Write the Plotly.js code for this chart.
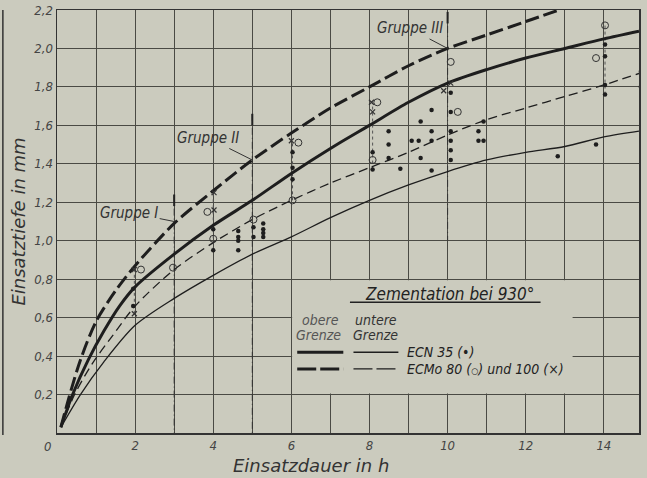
<!DOCTYPE html>
<html>
<head>
<meta charset="utf-8">
<script src="https://cdn.plot.ly/plotly-3.0.1.min.js"></script>
<style>html,body{margin:0;padding:0;background:#cbcbbe;}#chart{width:647px;height:478px;}</style>
</head>
<body>
<div id="chart"></div>
<script>
// ---- curves (Einsatzdauer h -> Einsatztiefe mm) ----
const ecmoUpperH = [0.1,0.3,0.6,1,1.5,2,3,4,5,6,7,8,9,10,11,12,12.85];
const ecmoUpperD = [0.03,0.18,0.38,0.58,0.74,0.87,1.09,1.26,1.42,1.56,1.69,1.80,1.91,2.00,2.07,2.14,2.20];

const ecnUpperH = [0.1,0.4,0.8,1.2,1.6,2,3,4,5,6,7,8,9,10,11,12,13,14,14.9];
const ecnUpperD = [0.03,0.2,0.38,0.53,0.66,0.76,0.93,1.08,1.21,1.35,1.48,1.60,1.72,1.82,1.89,1.95,2.00,2.05,2.09];

const ecmoLowerH = [0.1,0.45,0.9,1.4,2,3,4,5,6,7,8,9,10,11,12,13,14,14.9];
const ecmoLowerD = [0.03,0.2,0.36,0.5,0.66,0.85,0.99,1.11,1.21,1.30,1.38,1.46,1.55,1.63,1.69,1.75,1.81,1.87];

const ecnLowerH = [0.1,0.6,1.2,2,3,4,5,6,7,8,9,10,11,12,13,14,14.9];
const ecnLowerD = [0.03,0.2,0.37,0.56,0.70,0.82,0.93,1.02,1.12,1.21,1.29,1.36,1.42,1.46,1.49,1.54,1.57];

// ---- measured points ----
const ecn35H = [1.95,1.95,4.0,4.0,4.64,4.64,4.64,4.64,5.03,5.03,5.28,5.28,5.28,5.28,6.03,6.03,6.03,8.08,8.08,8.49,8.49,8.49,8.79,9.08,9.26,9.31,9.31,9.59,9.59,9.59,9.59,10.08,10.08,10.08,10.08,10.08,10.08,10.79,10.79,10.92,10.92,12.82,13.8,14.03,14.03,14.03,14.03,14.95,14.95];
const ecn35D = [0.66,0.75,1.06,0.95,1.05,1.02,1.00,0.95,1.07,1.02,1.09,1.06,1.04,1.02,1.46,1.38,1.32,1.46,1.37,1.57,1.50,1.43,1.375,1.52,1.52,1.62,1.43,1.68,1.57,1.52,1.365,1.77,1.67,1.57,1.52,1.47,1.42,1.57,1.52,1.62,1.52,1.44,1.50,2.02,1.96,1.81,1.76,1.88,1.80];

const ecmo80H = [2.15,2.97,3.85,4.0,5.03,6.18,6.03,8.2,8.08,10.08,10.26,14.03,13.8];
const ecmo80D = [0.85,0.86,1.15,1.01,1.11,1.51,1.21,1.72,1.42,1.93,1.67,2.12,1.95];

const ecmo100H = [1.98,4.02,4.02,6.0,8.05,8.08,10.08,9.9,1.98];
const ecmo100D = [0.85,1.16,1.25,1.52,1.72,1.67,1.82,1.78,0.62];

// ---- scatter ranges (dotted verticals) ----
const rangeH    = [1.98,4.0,6.03,8.08,14.03];
const rangeLow  = [0.62,0.95,1.21,1.37,1.76];
const rangeHigh = [0.85,1.25,1.52,1.72,2.12];

// ---- groups ----
const groupH      = [3,5,10];
const groupTop    = [1.24,1.66,2.19];
const groupBottom = [0,0,1.0];
const groupNames  = ['Gruppe I','Gruppe II','Gruppe III'];
const groupTipD   = [1.10,1.42,2.00];

// ---- ticks ----
const xTickVals = [0,1,2,3,4,5,6,7,8,9,10,11,12,13,14];
const xTickText = ['','','2','','4','','6','','8','','10','','12','','14'];
const yTickVals = [0,0.2,0.4,0.6,0.8,1.0,1.2,1.4,1.6,1.8,2.0,2.2];
const yTickText = ['','0,2','0,4','0,6','0,8','1,0','1,2','1,4','1,6','1,8','2,0','2,2'];

const BG = '#cbcbbe';
const INK = '#1e1e1e';
const FONT = 'DejaVu Sans Condensed, Liberation Sans Narrow, sans-serif';
const FONTW = 'DejaVu Sans, sans-serif';

function curve(x, y, w, dash) {
  return {x: x, y: y, mode: 'lines', type: 'scatter', hoverinfo: 'skip', showlegend: false,
          line: {color: INK, width: w, dash: dash, shape: 'spline', smoothing: 0.8}};
}

const traces = [];

// group vertical dash-dot lines
const gx = [], gy = [];
groupH.forEach((h, i) => { gx.push(h, h, null); gy.push(groupTop[i], groupBottom[i], null); });
traces.push({x: gx, y: gy, mode: 'lines', type: 'scatter', showlegend: false, hoverinfo: 'skip',
             line: {color: '#333', width: 1, dash: '7px,3px,1px,3px'}});
// short solid caps on group lines
const cx = [], cy = [];
groupH.forEach((h, i) => { cx.push(h, h, null); cy.push(groupTop[i], groupTop[i] - 0.06, null); });
traces.push({x: cx, y: cy, mode: 'lines', type: 'scatter', showlegend: false, hoverinfo: 'skip',
             line: {color: '#222', width: 2}});

// dotted range lines
const rx = [], ry = [];
rangeH.forEach((h, i) => { rx.push(h, h, null); ry.push(rangeLow[i], rangeHigh[i], null); });
traces.push({x: rx, y: ry, mode: 'lines', type: 'scatter', showlegend: false, hoverinfo: 'skip',
             line: {color: '#555', width: 1, dash: 'dot'}});

traces.push(curve(ecmoUpperH, ecmoUpperD, 3, '14px,5px'));
traces.push(curve(ecnUpperH, ecnUpperD, 3, 'solid'));
traces.push(curve(ecmoLowerH, ecmoLowerD, 1.3, '9px,5px'));
traces.push(curve(ecnLowerH, ecnLowerD, 1.3, 'solid'));

traces.push({x: ecn35H, y: ecn35D, mode: 'markers', type: 'scatter', showlegend: false,
             marker: {symbol: 'circle', size: 4.5, color: INK}});
traces.push({x: ecmo80H, y: ecmo80D, mode: 'markers', type: 'scatter', showlegend: false,
             marker: {symbol: 'circle-open', size: 7, color: '#333', line: {width: 1, color: '#333'}}});
traces.push({x: ecmo100H, y: ecmo100D, mode: 'markers', type: 'scatter', showlegend: false,
             marker: {symbol: 'x-thin-open', size: 5, color: '#333', line: {width: 1.2, color: '#333'}}});

const annotations = [];
const groupOffsets = [[-45,-9],[-44,-22],[-38,-20]];
groupH.forEach((h, i) => {
  annotations.push({x: h, y: groupTipD[i], xref: 'x', yref: 'y', text: groupNames[i],
    showarrow: true, arrowhead: 0, arrowwidth: 1, arrowcolor: '#333', standoff: 0,
    ax: groupOffsets[i][0], ay: groupOffsets[i][1],
    font: {family: FONT, size: 15, color: '#333', style: 'italic'}});
});
// origin label
annotations.push({x: 0, y: 0, xref: 'x', yref: 'y', text: '0', showarrow: false,
  xshift: -10, yshift: -13, font: {family: FONT, size: 13, color: '#444', style: 'italic'}});
// x axis title (placed left of centre as in the original)
annotations.push({x: 0.436, y: -0.077, xref: 'paper', yref: 'paper', text: 'Einsatzdauer in h', showarrow: false,
  xanchor: 'center', yanchor: 'middle', font: {family: FONTW, size: 18, color: '#333', style: 'italic'}});
// legend texts
const ltxt = (x, y, t, size, color, anchor) => ({x: x, y: y, xref: 'x', yref: 'y', text: t, showarrow: false,
  xanchor: anchor || 'center', yanchor: 'middle', font: {family: FONT, size: size, color: color, style: 'italic'}});
annotations.push(ltxt(10.05, 0.725, 'Zementation bei 930°', 17, '#222'));
annotations.push(ltxt(6.74, 0.59, 'obere', 14, '#555'));
annotations.push(ltxt(6.70, 0.51, 'Grenze', 14, '#555'));
annotations.push(ltxt(8.17, 0.59, 'untere', 14, '#333'));
annotations.push(ltxt(8.15, 0.51, 'Grenze', 14, '#333'));
annotations.push(ltxt(8.90, 0.42, 'ECN 35 (•)', 14, '#222', 'left'));
annotations.push(ltxt(8.90, 0.333, 'ECMo 80 (<span style="font-size:9px">○</span>) und 100 (×)', 14, '#222', 'left'));

const shapes = [
  // legend area (hides grid)
  {type: 'rect', xref: 'x', yref: 'y', x0: 6.02, x1: 13.2, y0: 0.205, y1: 0.795, fillcolor: BG, line: {width: 0}, layer: 'above'},
  // underline of title
  {type: 'line', xref: 'x', yref: 'y', x0: 7.5, x1: 12.38, y0: 0.68, y1: 0.68, line: {color: '#222', width: 1.5}, layer: 'above'},
  // legend samples
  {type: 'line', xref: 'x', yref: 'y', x0: 6.15, x1: 7.33, y0: 0.42, y1: 0.42, line: {color: INK, width: 3}, layer: 'above'},
  {type: 'line', xref: 'x', yref: 'y', x0: 7.59, x1: 8.74, y0: 0.42, y1: 0.42, line: {color: INK, width: 1.3}, layer: 'above'},
  {type: 'line', xref: 'x', yref: 'y', x0: 6.15, x1: 7.33, y0: 0.333, y1: 0.333, line: {color: INK, width: 3, dash: '19px,4px'}, layer: 'above'},
  {type: 'line', xref: 'x', yref: 'y', x0: 7.59, x1: 8.74, y0: 0.333, y1: 0.333, line: {color: INK, width: 1.3, dash: '19px,4px'}, layer: 'above'},
  // edge of neighbouring figure
  {type: 'line', xref: 'paper', yref: 'paper', x0: -0.093, x1: -0.093, y0: -0.005, y1: 1.0, line: {color: '#333', width: 1.5}}
];

const layout = {
  width: 647, height: 478,
  margin: {l: 57, r: 8, t: 10, b: 45, pad: 0},
  paper_bgcolor: BG, plot_bgcolor: BG,
  showlegend: false,
  xaxis: {range: [0, 14.9], tickmode: 'array', tickvals: xTickVals, ticktext: xTickText,
    showgrid: true, gridcolor: '#4a4a44', gridwidth: 1, zeroline: false,
    showline: true, mirror: true, linecolor: '#333', linewidth: 1.5, ticks: '',
    tickfont: {family: FONT, size: 13, color: '#444', style: 'italic'}},
  yaxis: {range: [0, 2.2], tickmode: 'array', tickvals: yTickVals, ticktext: yTickText,
    showgrid: true, gridcolor: '#4a4a44', gridwidth: 1, zeroline: false,
    showline: true, mirror: true, linecolor: '#333', linewidth: 1.5, ticks: '',
    tickfont: {family: FONT, size: 13, color: '#444', style: 'italic'},
    title: {text: 'Einsatztiefe in mm', standoff: 4, font: {family: FONTW, size: 18, color: '#333', style: 'italic'}}},
  annotations: annotations,
  shapes: shapes
};

Plotly.newPlot('chart', traces, layout, {displayModeBar: false, staticPlot: true});
</script>
</body>
</html>
